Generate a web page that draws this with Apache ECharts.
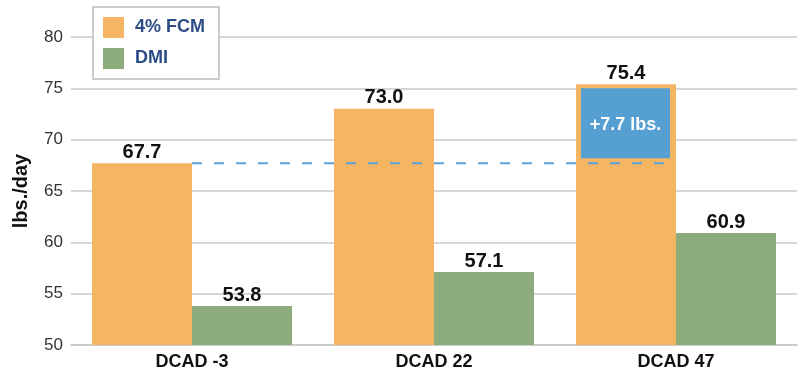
<!DOCTYPE html>
<html>
<head>
<meta charset="utf-8">
<script src="https://cdn.jsdelivr.net/npm/echarts@6/dist/echarts.min.js"></script>
<style>html,body{margin:0;padding:0;background:#fff}#c{width:801px;height:371px}</style>
</head>
<body>
<div id="c"></div>
<script>
const categories = ['DCAD -3', 'DCAD 22', 'DCAD 47'];
const fcmValues = [67.7, 73.0, 75.4];
const dmiValues = [53.8, 57.1, 60.9];
const yTicks = { min: 50, max: 80, interval: 5 };
const baselineValues = [67.7, 67.7, 67.7];   // dashed reference line (DCAD -3 FCM level)
const gainBox = [68.2, 75.0];                // blue annotation box range on DCAD 47 FCM bar
const gainLabel = '+7.7 lbs.';

const FONT = '"Liberation Sans", Arial, Helvetica, sans-serif';
const BAR_W = 100;

const chart = echarts.init(document.getElementById('c'), null, { renderer: 'canvas' });
chart.setOption({
  animation: false,
  backgroundColor: '#fff',
  grid: { left: 71, right: 4, top: 37, bottom: 26 },
  legend: {
    orient: 'vertical',
    left: 93, top: 7,
    itemWidth: 21, itemHeight: 21, itemGap: 10,
    padding: [10, 14, 10, 10],
    borderColor: '#bdbdbd', borderWidth: 1.5,
    backgroundColor: '#fff',
    icon: 'rect',
    textStyle: { fontFamily: FONT, fontWeight: 'bold', fontSize: 18, color: '#2b4c86', padding: [0, 0, 0, 6] },
    data: ['4% FCM', 'DMI']
  },
  xAxis: {
    type: 'category',
    data: categories,
    axisLine: { lineStyle: { color: '#c8c8c8', width: 1.5 } },
    axisTick: { show: false },
    axisLabel: { fontFamily: FONT, fontWeight: 'bold', fontSize: 18, color: '#111', margin: 8 }
  },
  yAxis: {
    type: 'value',
    min: yTicks.min, max: yTicks.max, interval: yTicks.interval,
    name: 'lbs./day',
    nameLocation: 'middle',
    nameGap: 40,
    nameRotate: 90,
    nameTextStyle: { fontFamily: FONT, fontWeight: 'bold', fontSize: 20, color: '#111' },
    axisLine: { show: false },
    axisTick: { show: false },
    axisLabel: { fontFamily: FONT, fontSize: 17, color: '#333', margin: 8 },
    splitLine: { lineStyle: { color: '#c8c8c8', width: 1.5 } }
  },
  series: [
    {
      name: '4% FCM', type: 'bar', data: fcmValues,
      barWidth: BAR_W, barGap: '0%',
      itemStyle: { color: '#F5B563' },
      label: { show: true, position: 'top', distance: 1, formatter: p => p.value.toFixed(1),
               fontFamily: FONT, fontWeight: 'bold', fontSize: 20, color: '#111' },
      z: 2
    },
    {
      name: 'DMI', type: 'bar', data: dmiValues,
      barWidth: BAR_W,
      itemStyle: { color: '#8CAD7B' },
      label: { show: true, position: 'top', distance: 1, formatter: p => p.value.toFixed(1),
               fontFamily: FONT, fontWeight: 'bold', fontSize: 20, color: '#111' }
    },
    {
      type: 'custom', name: 'gain', z: 5,
      data: [[2, gainBox[0], gainBox[1]]],
      renderItem: function (params, api) {
        const lo = api.coord([api.value(0), api.value(1)]);
        const hi = api.coord([api.value(0), api.value(2)]);
        const x0 = lo[0] - BAR_W + 5, x1 = lo[0] - 6;
        return {
          type: 'group',
          children: [
            { type: 'rect', shape: { x: x0, y: hi[1], width: x1 - x0, height: lo[1] - hi[1] },
              style: { fill: '#559FD3' } },
            { type: 'text', x: (x0 + x1) / 2, y: (lo[1] + hi[1]) / 2 + 2,
              style: { text: gainLabel, fill: '#fff', font: 'bold 18px ' + FONT,
                       align: 'center', verticalAlign: 'middle' } }
          ]
        };
      }
    },
    {
      type: 'line', name: 'baseline', data: baselineValues, z: 10,
      symbol: 'none', silent: true,
      lineStyle: { color: '#5BA3D9', type: [10, 12], width: 2 }
    }
  ]
});
</script>
</body>
</html>
